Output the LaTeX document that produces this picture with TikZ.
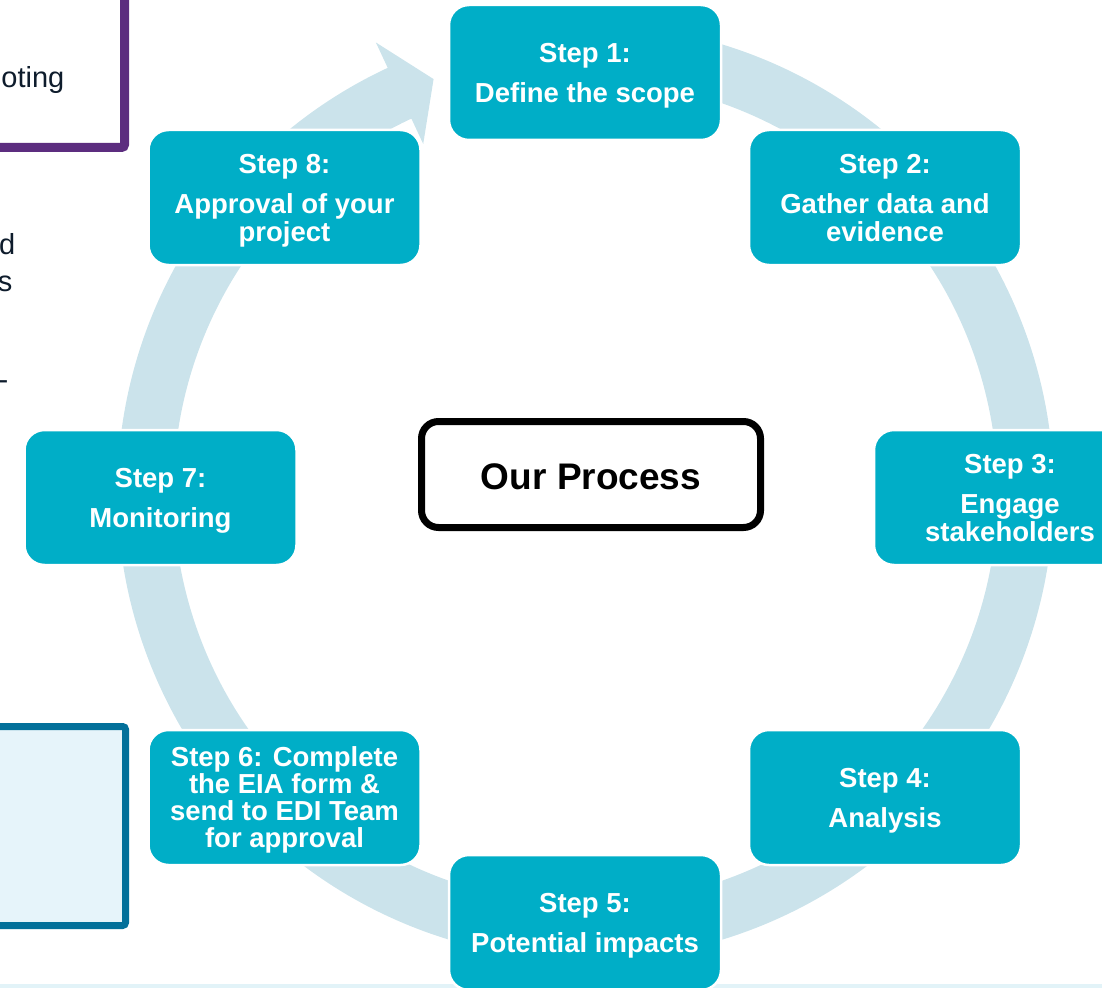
\documentclass[tikz,border=0pt]{standalone}
\usepackage{fontspec}
\setmainfont{Liberation Sans}
\definecolor{stepteal}{RGB}{0,174,199}
\definecolor{ringblue}{RGB}{203,227,235}
\definecolor{framepurple}{RGB}{92,45,127}
\definecolor{frameblue}{RGB}{3,112,154}
\definecolor{panelblue}{RGB}{230,244,250}
\definecolor{stripblue}{RGB}{226,243,248}
\definecolor{inkdark}{RGB}{14,28,44}
\tikzset{
  stepbox/.style={fill=stepteal, draw=white, line width=2.5pt, rounded corners=20pt,
    minimum width=272pt, minimum height=135pt, inner sep=0pt, align=center,
    text depth=0pt,
    text=white, font=\bfseries\fontsize{27.5}{28}\selectfont},
  titlebox/.style={fill=white, draw=black, line width=7pt, rounded corners=17pt,
    minimum width=339pt, minimum height=106pt, inner sep=0pt, text height=31pt,
    font=\bfseries\fontsize{37}{40}\selectfont},
  sidetext/.style={anchor=base east, inner sep=0pt, text=inkdark,
    font=\fontsize{29}{33}\selectfont}
}
\begin{document}
\begin{tikzpicture}[x=1pt,y=-1pt]
\useasboundingbox (0,0) rectangle (1102,987);
\clip (0,0) rectangle (1102,987);

% side panels running off the left edge
\draw[framepurple, line width=9pt, rounded corners=3pt, fill=white]
  (-60,-60) rectangle (124.5,147.5);
\node[sidetext] (frag1) at (64.5,88) {oting};
\node[sidetext] (frag2) at (15.5,254) {d};
\node[sidetext] (frag3) at (12.5,291) {s};
\node[sidetext] (frag4) at (8.5,389) {-};
\draw[frameblue, line width=7pt, rounded corners=3pt, fill=panelblue]
  (-60,726.5) rectangle (125.5,925.5);
\fill[stripblue] (-10,984) rectangle (1112,1000);

% circular arrow behind the steps (angles counted anticlockwise, y up)
\begin{scope}[shift={(585.5,492)}, y=1pt]
  \fill[ringblue] (115:412) -- (115:384) -- (110.2:440) -- (115:496) -- (115:468)
    arc[start angle=115, end angle=465, radius=468]
    -- (465:412)
    arc[start angle=465, end angle=115, radius=412] -- cycle;
\end{scope}

% the eight steps
\node[stepbox] (s1) at (585,72.5)   {Step 1:\\[12pt]Define the scope};
\node[stepbox] (s2) at (885,197.5)  {Step 2:\\[12pt]Gather data and\\evidence};
\node[stepbox] (s3) at (1010,497.5) {Step 3:\\[12pt]Engage\\stakeholders};
\node[stepbox] (s4) at (885,797.5)  {Step 4:\\[12pt]Analysis};
\node[stepbox] (s5) at (585,922.5)  {Step 5:\\[12pt]Potential impacts};
\node[stepbox, font=\bfseries\fontsize{27.5}{27}\selectfont] (s6) at (284.5,797.5)
  {Step 6: Complete\\the EIA form \&\\send to EDI Team\\for approval};
\node[stepbox] (s7) at (160.5,497.5) {Step 7:\\[12pt]Monitoring};
\node[stepbox] (s8) at (284.5,197.5) {Step 8:\\[12pt]Approval of your\\project};

% centre label
\node[titlebox] (title) at (591,474.5) {Our Process};
\end{tikzpicture}
\end{document}
